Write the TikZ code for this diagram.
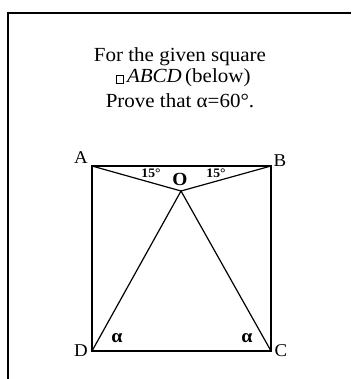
\documentclass[tikz,border=0pt]{standalone}
\usepackage{fontspec}
\setmainfont{Liberation Serif}[FakeStretch=1.05]
\begin{document}
\begin{tikzpicture}[x=1pt,y=-1pt,
  frame/.style={line width=1.3pt},
  sqline/.style={line width=2pt},
  oline/.style={line width=1.2pt},
  title/.style={anchor=base,font=\fontsize{20}{22}\selectfont,inner sep=0pt},
  vlabel/.style={anchor=base,font=\fontsize{18}{20}\selectfont,inner sep=0pt},
  anglabel/.style={anchor=base,font=\bfseries\fontsize{13}{15}\selectfont,inner sep=0pt},
  olabel/.style={anchor=base,font=\bfseries\fontsize{18.5}{20}\selectfont,inner sep=0pt},
  alabel/.style={anchor=base,font=\bfseries\fontsize{19}{20}\selectfont,inner sep=0pt}]
\useasboundingbox (0,0) rectangle (351,379);
\fill[white] (0,0) rectangle (351,379);
% frame (left and top edges)
\coordinate (F1) at (8,379);
\coordinate (F2) at (8,13);
\coordinate (F3) at (351,13);
\draw[frame] (F1) -- (F2) -- (F3);
% title
\node[title] (t1) at (180,62) {For the given square};
\node[title] (t2) at (183,83) {{\setlength\fboxsep{0pt}\setlength\fboxrule{0.6pt}\fbox{\rule{0pt}{7pt}\hspace{7pt}}}\,\textit{ABCD}\,(below)};
\node[title] (t3) at (180,108) {Prove that α=60°.};
% square
\coordinate (A) at (92,166);
\coordinate (B) at (271,166);
\coordinate (C) at (271,351);
\coordinate (D) at (92,351);
\coordinate (O) at (181,191);
\draw[sqline] (A) -- (B) -- (C) -- (D) -- cycle;
\draw[oline] (A) -- (O) -- (B);
\draw[oline] (D) -- (O) -- (C);
% labels
\node[vlabel] (lA) at (81,164) {A};
\node[vlabel] (lB) at (280,167) {B};
\node[vlabel] (lC) at (281,356) {C};
\node[vlabel] (lD) at (81,356) {D};
\node[olabel] (lO) at (180,185) {O};
\node[anglabel] (a1) at (151,178) {15°};
\node[anglabel] (a2) at (216,178) {15°};
\node[alabel] (al1) at (117,342) {α};
\node[alabel] (al2) at (247,342) {α};
\end{tikzpicture}
\end{document}
